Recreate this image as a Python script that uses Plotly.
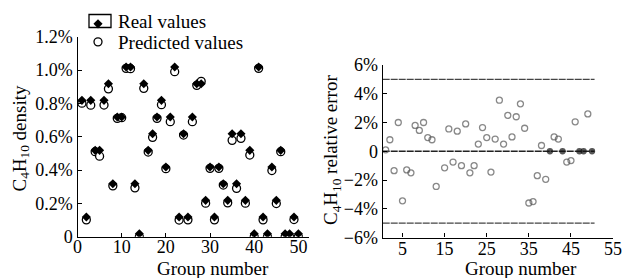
import plotly.graph_objects as go

# ---------------- data ----------------
groups = list(range(1, 51))

# C4H10 density, % (left panel)
real_values = [0.8, 0.1, 0.8, 0.5, 0.5, 0.8, 0.9, 0.3, 0.7, 0.7,
               1.0, 1.0, 0.3, 0.0, 0.9, 0.5, 0.6, 0.7, 0.8, 0.4,
               0.7, 1.0, 0.1, 0.6, 0.1, 0.7, 0.9, 0.9, 0.2, 0.4,
               0.1, 0.4, 0.3, 0.2, 0.6, 0.3, 0.6, 0.2, 0.5, 0.0,
               1.0, 0.1, 0.0, 0.4, 0.2, 0.5, 0.0, 0.0, 0.1, 0.0]
predicted_values = [0.801, 0.101, 0.789, 0.510, 0.483, 0.790, 0.887, 0.305, 0.710, 0.714,
                    1.010, 1.008, 0.293, 0.0, 0.890, 0.508, 0.596, 0.710, 0.792, 0.408,
                    0.690, 0.990, 0.100, 0.610, 0.101, 0.690, 0.908, 0.932, 0.201, 0.410,
                    0.101, 0.410, 0.310, 0.203, 0.578, 0.290, 0.590, 0.201, 0.490, 0.0,
                    1.010, 0.101, 0.0, 0.397, 0.199, 0.510, 0.0, 0.0, 0.103, 0.0]

# relative error, % (right panel)
relative_error = [0.1, 0.8, -1.35, 2.0, -3.45, -1.3, -1.5, 1.8, 1.45, 2.0,
                  0.95, 0.8, -2.45, None, -1.15, 1.55, -0.75, 1.4, -1.0, 1.9,
                  -1.5, -1.0, 0.5, 1.65, 0.95, -1.45, 0.85, 3.55, 0.5, 2.5,
                  1.0, 2.4, 3.3, 1.6, -3.6, -3.5, -1.7, 0.4, -1.95, 0.0,
                  1.0, 0.85, 0.0, -0.75, -0.65, 2.05, 0.0, 0.0, 2.6, 0.0]

left_x_ticks = [0, 10, 20, 30, 40, 50]
left_y_ticks = [0, 0.2, 0.4, 0.6, 0.8, 1.0, 1.2]
left_y_labels = ["0", "0.2%", "0.4%", "0.6%", "0.8%", "1.0%", "1.2%"]
right_x_ticks = [5, 15, 25, 35, 45, 55]
right_y_ticks = [-6, -4, -2, 0, 2, 4, 6]
right_y_labels = ["\u22126%", "\u22124%", "\u22122%", "0", "2%", "4%", "6%"]
bound_levels = [5, 0, -5]
bound_x_span = [0.3, 50.6]

# ---------------- figure ----------------
W, H = 622, 278
FONT = "Liberation Serif"


def px(x):
    return x / W


def py(y):
    return (H - y) / H


fig = go.Figure()

fig.add_trace(go.Scatter(
    x=groups, y=predicted_values, mode="markers", name="Predicted values",
    legend="legend2",
    marker=dict(symbol="circle", size=8, color="white",
                line=dict(color="black", width=1.3)),
    xaxis="x", yaxis="y", cliponaxis=True))

fig.add_trace(go.Scatter(
    x=groups, y=real_values, mode="markers", name="Real values",
    legend="legend",
    marker=dict(symbol="diamond", size=7, color="black", angle=180, standoff=3,
                line=dict(color="black", width=0)),
    xaxis="x", yaxis="y", cliponaxis=True))

is_zero = [e is not None and e == 0 for e in relative_error]
err_symbols = ["circle" if z else "circle-open" for z in is_zero]
err_colors = ["#111111" if z else "#555555" for z in is_zero]
err_sizes = [5 if z else 6 for z in is_zero]
fig.add_trace(go.Scatter(
    x=groups, y=relative_error, mode="markers", showlegend=False,
    marker=dict(symbol=err_symbols, size=err_sizes, color=err_colors,
                line=dict(color=err_colors, width=1.3)),
    xaxis="x2", yaxis="y2", cliponaxis=False))

for lv in bound_levels:
    fig.add_shape(type="line", xref="x2", yref="y2",
                  x0=bound_x_span[0], x1=bound_x_span[1], y0=lv, y1=lv,
                  line=dict(color="#222222" if lv == 0 else "#444444",
                            width=1.6 if lv == 0 else 1.3, dash="7px,1px"),
                  layer="below")

axis_common = dict(showline=True, linecolor="black", linewidth=1.3, mirror=False,
                   showgrid=False, zeroline=False, ticks="inside", ticklen=4,
                   tickwidth=1.3, tickcolor="black", ticklabeloverflow="allow",
                   tickfont=dict(family=FONT, size=18, color="black"))

legend_common = dict(xanchor="left", yanchor="middle", bgcolor="rgba(0,0,0,0)",
                     borderwidth=0, font=dict(family=FONT, size=19, color="black"),
                     itemwidth=30)

fig.update_layout(
    width=W, height=H, autosize=False,
    margin=dict(l=0, r=0, t=0, b=0, autoexpand=False),
    paper_bgcolor="white", plot_bgcolor="white",
    font=dict(family=FONT, color="black"),
    xaxis=dict(domain=[px(77.5), px(309)], range=[0, 52.4], tickvals=left_x_ticks,
               anchor="y", ticklabelstandoff=-6, **axis_common),
    yaxis=dict(domain=[py(236.7), py(36.7)], range=[0, 1.2], tickvals=left_y_ticks,
               ticktext=left_y_labels, anchor="x", **axis_common),
    xaxis2=dict(domain=[px(382.7), px(613.3)], range=[0.3, 55.05], tickvals=right_x_ticks,
                anchor="y2", ticklabelstandoff=-5, **axis_common),
    yaxis2=dict(domain=[py(237.5), py(65)], range=[-6, 6], tickvals=right_y_ticks,
                ticktext=right_y_labels, anchor="x2", **axis_common),
    showlegend=True,
    legend=dict(x=px(78), y=py(21), **legend_common),
    legend2=dict(x=px(78), y=py(42), **legend_common),
)

# legend frame around the real-values symbol
fig.add_shape(type="rect", xref="paper", yref="paper",
              x0=px(89), x1=px(111), y0=py(27.5), y1=py(14.5),
              line=dict(color="black", width=1.3))

ann = dict(showarrow=False, xref="paper", yref="paper",
           font=dict(family=FONT, size=19, color="black"))
fig.add_annotation(text="Group number", x=px(213), y=py(268), xanchor="center", yanchor="middle", **ann)
fig.add_annotation(text="Group number", x=px(521), y=py(268), xanchor="center", yanchor="middle", **ann)
fig.add_annotation(text="C<sub>4</sub>H<sub>10</sub> density", x=px(20), y=py(138.5),
                   xanchor="center", yanchor="middle", textangle=-90, **ann)
fig.add_annotation(text="C<sub>4</sub>H<sub>10</sub> relative error", x=px(332), y=py(150),
                   xanchor="center", yanchor="middle", textangle=-90, **ann)

fig.write_html("out.html", config={"displayModeBar": False},
               post_script="document.body.style.margin='0';document.body.style.overflow='hidden';")
